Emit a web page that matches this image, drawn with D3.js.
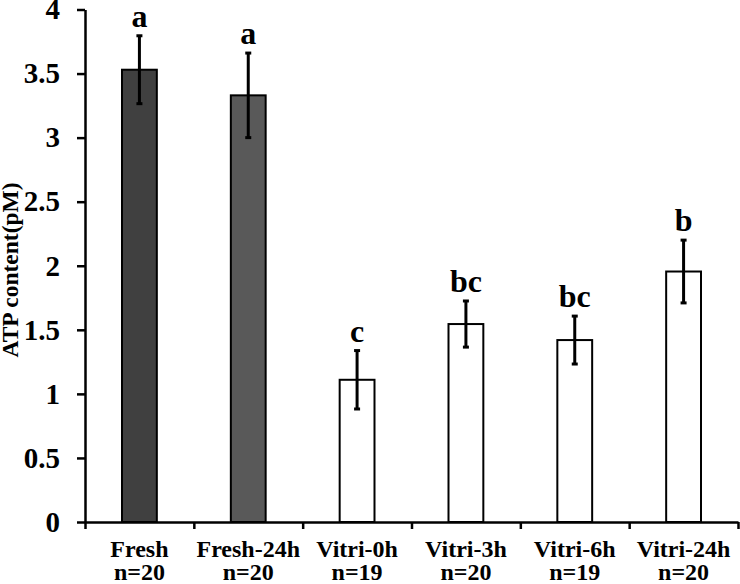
<!DOCTYPE html>
<html>
<head>
<meta charset="utf-8">
<script src="https://cdn.jsdelivr.net/npm/d3@7"></script>
<style>
  html, body { margin: 0; padding: 0; background: #fff; }
  svg { display: block; }
  text { font-family: "Liberation Serif", "Times New Roman", serif; font-weight: bold; fill: #000; }
</style>
</head>
<body>
<svg id="chart" width="740" height="584"></svg>
<script>
const categories = ["Fresh", "Fresh-24h", "Vitri-0h", "Vitri-3h", "Vitri-6h", "Vitri-24h"];
const sampleSizes = ["n=20", "n=20", "n=19", "n=20", "n=19", "n=20"];
const means = [3.53, 3.33, 1.11, 1.545, 1.42, 1.955];
const errors = [0.265, 0.33, 0.228, 0.18, 0.187, 0.245];
const letters = ["a", "a", "c", "bc", "bc", "b"];
const fills = ["#404040", "#595959", "#ffffff", "#ffffff", "#ffffff", "#ffffff"];
const yTicks = [0, 0.5, 1, 1.5, 2, 2.5, 3, 3.5, 4];
const yTitle = "ATP content(pM)";

const svg = d3.select("#chart");
const mLeft = 85, mRight = 738, mTop = 9.5, mBottom = 522;

const x = d3.scaleBand().domain(categories).range([mLeft, mRight]).paddingInner(0.68).paddingOuter(0.34);
const y = d3.scaleLinear().domain([0, 4]).range([mBottom, mTop]);

// bars
svg.append("g").selectAll("rect").data(categories).join("rect")
  .attr("x", d => x(d))
  .attr("y", (d, i) => y(means[i]))
  .attr("width", x.bandwidth())
  .attr("height", (d, i) => y(0) - y(means[i]))
  .attr("fill", (d, i) => fills[i])
  .attr("stroke", "#000")
  .attr("stroke-width", 2);

// error bars
const eg = svg.append("g").attr("stroke", "#000").attr("stroke-width", 3);
categories.forEach((c, i) => {
  const cx = x(c) + x.bandwidth() / 2;
  const y1 = y(means[i] + errors[i]), y2 = y(means[i] - errors[i]);
  eg.append("line").attr("x1", cx).attr("x2", cx).attr("y1", y1).attr("y2", y2);
  eg.append("line").attr("x1", cx - 3).attr("x2", cx + 3).attr("y1", y1).attr("y2", y1);
  eg.append("line").attr("x1", cx - 3).attr("x2", cx + 3).attr("y1", y2).attr("y2", y2);
});

// significance letters
svg.append("g").selectAll("text").data(categories).join("text")
  .attr("x", d => x(d) + x.bandwidth() / 2)
  .attr("y", (d, i) => y(means[i] + errors[i]) - 9)
  .attr("text-anchor", "middle")
  .style("font-size", "32px")
  .text((d, i) => letters[i]);

// y axis
const yAxis = svg.append("g").attr("transform", `translate(${mLeft},0)`)
  .call(d3.axisLeft(y).tickValues(yTicks).tickFormat(d => String(d)).tickSize(8).tickSizeOuter(0).tickPadding(17));
yAxis.attr("font-family", null).attr("font-size", null);
yAxis.select(".domain").attr("stroke", "#000").attr("stroke-width", 2.5);
yAxis.selectAll(".tick line").attr("stroke", "#000").attr("stroke-width", 2.5);
yAxis.selectAll(".tick text").style("font-size", "29px").attr("fill", "#000");

// x axis (ticks at band boundaries)
const xLin = d3.scaleLinear().domain([0, categories.length]).range([mLeft, mRight]);
const xAxis = svg.append("g").attr("transform", `translate(0,${mBottom})`)
  .call(d3.axisBottom(xLin).tickValues(d3.range(categories.length + 1)).tickFormat("").tickSize(7).tickSizeOuter(0));
xAxis.select(".domain").attr("stroke", "#000").attr("stroke-width", 2.5);
xAxis.selectAll(".tick line").attr("stroke", "#000").attr("stroke-width", 2.5);

// x labels
const lab = svg.append("g").selectAll("text").data(categories).join("text")
  .attr("text-anchor", "middle")
  .style("font-size", "24px");
lab.append("tspan").attr("x", d => x(d) + x.bandwidth() / 2).attr("y", 557).text(d => d);
lab.append("tspan").attr("x", d => x(d) + x.bandwidth() / 2).attr("y", 580).text((d, i) => sampleSizes[i]);

// y title
svg.append("text")
  .attr("transform", "translate(18,270) rotate(-90)")
  .attr("text-anchor", "middle")
  .style("font-size", "23.5px")
  .text(yTitle);
</script>
</body>
</html>
